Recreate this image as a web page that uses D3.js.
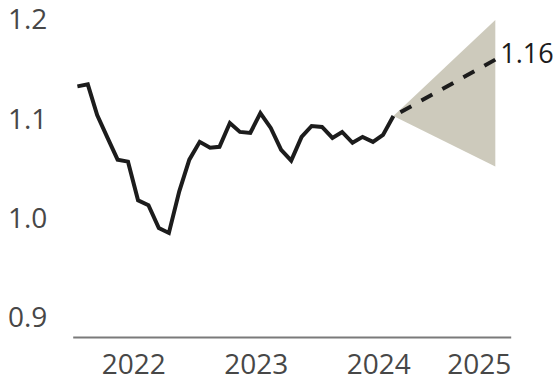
<!DOCTYPE html>
<html>
<head>
<meta charset="utf-8">
<script src="https://cdn.jsdelivr.net/npm/d3@7"></script>
<style>
  html, body { margin: 0; padding: 0; background: #fff; }
  svg { display: block; }
  text { font-family: "Open Sans", "Noto Sans", sans-serif; }
</style>
</head>
<body>
<svg id="chart" width="558" height="377"></svg>
<script>
// ---- Data ----
const historyStart = "2022-01-15";
const historyValues = [
  1.133, 1.135, 1.104, 1.081, 1.059, 1.057, 1.018, 1.013, 0.990, 0.985,
  1.027, 1.059, 1.077, 1.071, 1.072, 1.096, 1.087, 1.086, 1.106, 1.091,
  1.069, 1.058, 1.082, 1.093, 1.092, 1.081, 1.087, 1.076, 1.082, 1.077,
  1.084, 1.103
];
const forecastDates = ["2024-08-15", "2025-06-15"];
const forecastMid = [1.103, 1.16];
const forecastHigh = [1.103, 1.20];
const forecastLow = [1.103, 1.052];
const forecastLabel = "1.16";
const yTicks = [0.9, 1.0, 1.1, 1.2];
const xTickYears = [2022, 2023, 2024, 2025];

// ---- Setup ----
const parse = d3.timeParse("%Y-%m-%d");
const start = parse(historyStart);
const historyDates = historyValues.map((_, i) => d3.timeMonth.offset(start, i));
const history = historyValues.map((v, i) => ({ date: historyDates[i], value: v }));
const fDates = forecastDates.map(parse);
const cone = fDates.map((d, i) => ({ date: d, hi: forecastHigh[i], lo: forecastLow[i] }));
const mid = fDates.map((d, i) => ({ date: d, value: forecastMid[i] }));

const svg = d3.select("#chart");

const x = d3.scaleTime()
  .domain([new Date(2022, 0, 1), new Date(2025, 6, 31)])
  .range([72.7, 510.7]);
const y = d3.scaleLinear()
  .domain([0.88, 1.2])
  .range([337, 20]);

// Cone
svg.append("path")
  .datum(cone)
  .attr("fill", "#cdcabc")
  .attr("d", d3.area().x(d => x(d.date)).y0(d => y(d.lo)).y1(d => y(d.hi)));

// History line
svg.append("path")
  .datum(history)
  .attr("fill", "none")
  .attr("stroke", "#1c1c1c")
  .attr("stroke-width", 4)
  .attr("stroke-linejoin", "miter")
  .attr("d", d3.line().x(d => x(d.date)).y(d => y(d.value)));

// Forecast dashed line
svg.append("path")
  .datum(mid)
  .attr("fill", "none")
  .attr("stroke", "#1c1c1c")
  .attr("stroke-width", 4)
  .attr("stroke-dasharray", "12.5,11.5")
  .attr("stroke-dashoffset", 16)
  .attr("d", d3.line().x(d => x(d.date)).y(d => y(d.value)));

// Forecast label
const last = mid[mid.length - 1];
svg.append("text")
  .attr("x", x(last.date) + 5)
  .attr("y", y(last.value) + 3.5)
  .attr("font-size", 27)
  .attr("fill", "#1c1c1c")
  .text(forecastLabel);

// Y axis
const yAxis = svg.append("g")
  .call(d3.axisLeft(y).tickValues(yTicks).tickSize(0).tickFormat(d3.format(".1f")));
yAxis.select(".domain").remove();
yAxis.selectAll("text")
  .attr("x", 8)
  .attr("text-anchor", "start")
  .attr("font-size", 28)
  .attr("font-family", "Open Sans, Noto Sans, sans-serif")
  .attr("fill", "#474747");

// X axis
const xTickDates = xTickYears.map(yr => new Date(yr, 6, 1));
const xAxis = svg.append("g")
  .attr("transform", "translate(0,337)")
  .call(d3.axisBottom(x).tickValues(xTickDates).tickSize(0).tickSizeOuter(0)
    .tickPadding(17).tickFormat(d3.timeFormat("%Y")));
xAxis.select(".domain")
  .attr("stroke", "#7a7a7a")
  .attr("stroke-width", 2);
xAxis.selectAll("text")
  .attr("font-size", 28)
  .attr("font-family", "Open Sans, Noto Sans, sans-serif")
  .attr("fill", "#474747");
// Last tick label right-aligned to the axis end
const rEnd = x.range()[1];
xAxis.selectAll(".tick")
  .filter((d, i, n) => i === n.length - 1)
  .select("text")
  .attr("text-anchor", "end")
  .attr("x", d => rEnd - x(d));
</script>
</body>
</html>
